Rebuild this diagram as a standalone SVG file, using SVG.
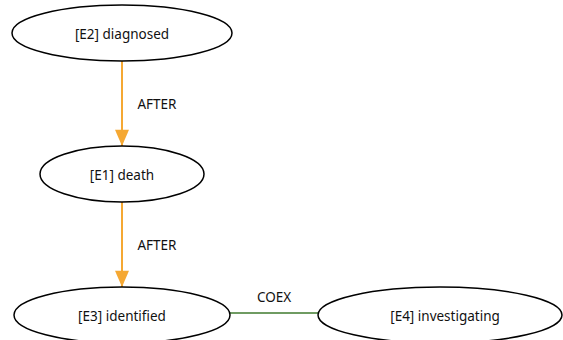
<svg xmlns="http://www.w3.org/2000/svg" width="563" height="340" viewBox="0 0 563 340">
<defs>
<style>
.node ellipse{fill:#fff;stroke:#000;stroke-width:1.5}
text{font-family:"Noto Sans","Liberation Sans",sans-serif;font-size:13.5px;fill:#111;text-anchor:middle;dominant-baseline:central}
.after{stroke:#f5a833;stroke-width:2;fill:none}
.coex{stroke:#3f7a2e;stroke-width:1.5;fill:none}
</style>
<marker id="arr" viewBox="0 0 10 10" refX="10" refY="5" markerWidth="8" markerHeight="10" markerUnits="userSpaceOnUse" orient="auto">
<path d="M0,0 L10,5 L0,10 z" fill="#f5a833"/>
</marker>
<marker id="arrO" viewBox="0 0 14 12" refX="14" refY="6" markerWidth="18" markerHeight="14" orient="auto" markerUnits="userSpaceOnUse">
<path d="M0,0 L14,6 L0,12 z" fill="#f5a833"/>
</marker>
</defs>
<g id="connectors">
<line class="after" x1="122" y1="61" x2="122" y2="146" marker-end="url(#arrO)"/>
<text x="157" y="104">AFTER</text>
<line class="after" x1="122" y1="202" x2="122" y2="287" marker-end="url(#arrO)"/>
<text x="157" y="245">AFTER</text>
<line class="coex" x1="230" y1="313" x2="318" y2="313"/>
<text x="274" y="297">COEX</text>
</g>
<g id="E2" class="node"><ellipse cx="122" cy="33" rx="110" ry="28"/><text x="122" y="34">[E2] diagnosed</text></g>
<g id="E1" class="node"><ellipse cx="122" cy="174" rx="82" ry="28"/><text x="122" y="175">[E1] death</text></g>
<g id="E3" class="node"><ellipse cx="122" cy="315" rx="108" ry="28"/><text x="122" y="316">[E3] identified</text></g>
<g id="E4" class="node"><ellipse cx="440" cy="315" rx="122" ry="28"/><text x="445" y="316">[E4] investigating</text></g>
</svg>
